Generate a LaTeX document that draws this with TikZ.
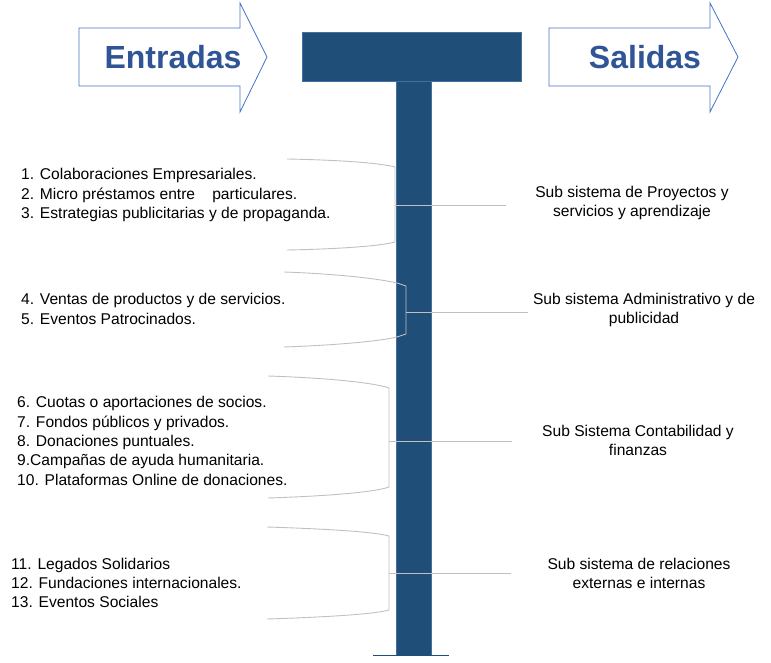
\documentclass[tikz,border=0pt]{standalone}
\usepackage{fontspec}
\setmainfont{Liberation Sans}
\definecolor{tblue}{RGB}{31,78,121}
\definecolor{tedge}{RGB}{65,113,156}
\definecolor{aline}{RGB}{68,114,196}
\definecolor{atext}{RGB}{47,85,151}
\definecolor{brc}{RGB}{192,192,192}
\tikzset{
  arrowshape/.style={draw=aline,line width=0.8pt,fill=white},
  arrowlabel/.style={inner sep=0pt,text=atext,font=\fontsize{32}{36}\selectfont\bfseries},
  listtext/.style={inner sep=0pt,anchor=west,align=left,font=\fontsize{15.6}{19.3}\selectfont},
  outtext/.style={inner sep=0pt,align=center,font=\fontsize{15.6}{19}\selectfont},
  bracel/.style={draw=brc,line width=0.9pt},
  tbar/.style={fill=tblue,draw=tedge,line width=0.6pt},
}
\begin{document}
\begin{tikzpicture}[x=1pt,y=-1pt]
\useasboundingbox (0,0) rectangle (771,663);
% input / output arrows
\path[arrowshape] (79,28) -- (240,28) -- (240,3) -- (267,57) -- (240,112) -- (240,86) -- (79,86) -- cycle;
\node[arrowlabel] (entradas) at (173,57) {Entradas};
\path[arrowshape] (549,28) -- (710,28) -- (710,3) -- (738,57) -- (710,112) -- (710,86) -- (549,86) -- cycle;
\node[arrowlabel] (salidas) at (645,57) {Salidas};
% T shape
\path[tbar] (396,81) rectangle (431,655);
\path[tbar] (302,32) rectangle (521,81);
\draw[tblue,line width=1pt] (373,655) -- (449,655);
% left lists
\node[listtext] (l1) at (21,195) {1. Colaboraciones Empresariales.\\2. Micro préstamos entre\hspace{1.1em}particulares.\\3. Estrategias publicitarias y de propaganda.};
\node[listtext] (l2) at (21,309) {4. Ventas de productos y de servicios.\\5. Eventos Patrocinados.};
\node[listtext] (l3) at (17,441) {6. Cuotas o aportaciones de socios.\\7. Fondos públicos y privados.\\8. Donaciones puntuales.\\9.Campañas de ayuda humanitaria.\\10. Plataformas Online de donaciones.};
\node[listtext] (l4) at (11,583) {11. Legados Solidarios\\12. Fundaciones internacionales.\\13. Eventos Sociales};
% right outputs
\node[outtext] (o1) at (632,203) {Sub sistema de Proyectos y\\servicios y aprendizaje};
\node[outtext] (o2) at (644,310) {Sub sistema Administrativo y de\\publicidad};
\node[outtext] (o3) at (638,440) {Sub Sistema Contabilidad y\\finanzas};
\node[outtext] (o4) at (639,573) {Sub sistema de relaciones\\externas e internas};
% braces
\draw[bracel] (287,159) .. controls (340,160) and (380,163) .. (395,167) -- (395,242) .. controls (380,246) and (340,249) .. (287,250);
\coordinate (b1) at (395,205);
\coordinate (e1) at (506,205);
\draw[bracel] (284,272) .. controls (340,274) and (380,279) .. (397,283) -- (406,286) -- (406,334) -- (397,337) .. controls (380,341) and (340,345) .. (284,347);
\coordinate (b2) at (406,312);
\coordinate (e2) at (528,312);
\draw[bracel] (268,376) .. controls (330,378) and (375,383) .. (389,388) -- (389,487) .. controls (375,492) and (330,496) .. (268,498);
\coordinate (b3) at (389,441);
\coordinate (e3) at (512,441);
\draw[bracel] (267,527) .. controls (330,529) and (375,532) .. (389,536) -- (389,610) .. controls (375,614) and (330,617) .. (267,619);
\coordinate (b4) at (389,573);
\coordinate (e4) at (511,573);
\draw[bracel] (b1) -- (e1);
\draw[bracel] (b2) -- (e2);
\draw[bracel] (b3) -- (e3);
\draw[bracel] (b4) -- (e4);
\end{tikzpicture}
\end{document}
